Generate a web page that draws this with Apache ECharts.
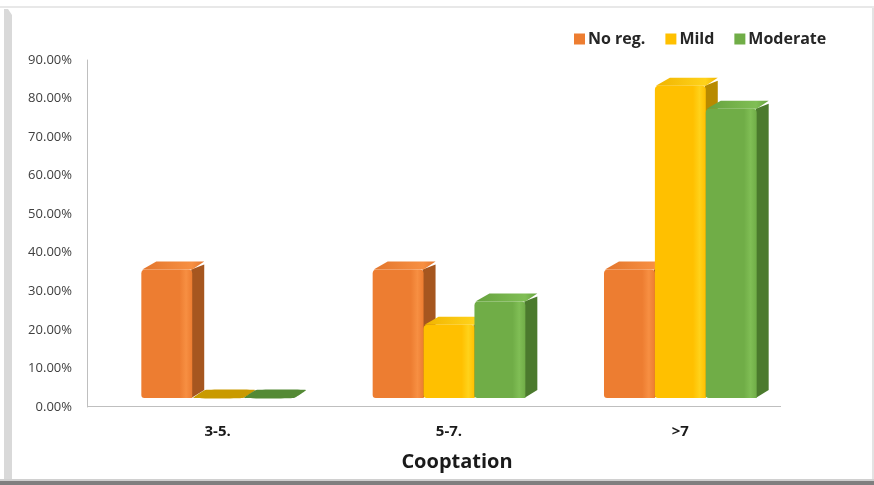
<!DOCTYPE html>
<html>
<head>
<meta charset="utf-8">
<script src="https://cdn.jsdelivr.net/npm/echarts@6/dist/echarts.min.js"></script>
<style>
  html, body { margin: 0; padding: 0; background: #ffffff; }
  #chart { width: 874px; height: 485px; }
</style>
</head>
<body>
<div id="chart"></div>
<script>
// Cooptation groups and share of each regulation level (percent)
const categories = ['3-5.', '5-7.', '>7'];
const noReg = [33.33, 33.33, 33.33];
const mild = [0, 19, 81];
const moderate = [0, 25, 75];
const seriesNames = ['No reg.', 'Mild', 'Moderate'];

// face colours per series: front, side, top, flat (zero-height) slab
const palette = [
  { front: '#ED7D31', light: '#F78F42', side: '#A6561F', top: '#E3762D', flat: '#B8601F' },
  { front: '#FFC000', light: '#FFD21A', side: '#B88A00', top: '#F0B400', flat: '#C99A00' },
  { front: '#70AD47', light: '#80BE55', side: '#4B7A2D', top: '#66A23E', flat: '#548A35' }
];

const DX = 12;   // depth offset to the right
const DY = -8;   // depth offset upwards
const LIFT = 9;  // floor of the 3D bars sits just above the axis line

function makeRender(si) {
  return function (params, api) {
    const idx = api.value(0);
    const v = api.value(1);
    const base = api.coord([idx, 0]);
    const top = api.coord([idx, v]);
    const band = api.size([1, 0])[0];
    const w = band * 0.22;
    const x0 = base[0] + (si - 1) * w - w / 2;
    const x1 = x0 + w;
    const yb = base[1] - LIFT;
    const yt = top[1] - LIFT;
    const c = palette[si];
    if (v <= 0) {
      return {
        type: 'polygon',
        shape: { points: [[x0 + 1, yb], [x1, yb], [x1 + DX, yb + DY], [x0 + DX + 1, yb + DY]], smooth: 0.1 },
        style: { fill: c.flat }
      };
    }
    return {
      type: 'group',
      children: [
        {
          type: 'polygon',
          shape: { points: [[x1 - 1, yb], [x1 + DX, yb + DY], [x1 + DX, yt + DY + 3], [x1 - 1, yt]] },
          style: { fill: c.side }
        },
        {
          type: 'polygon',
          shape: { points: [[x0 + 1, yt], [x1, yt], [x1 + DX, yt + DY], [x0 + DX + 3, yt + DY]] },
          style: {
            fill: new echarts.graphic.LinearGradient(0, 0, 1, 0, [
              { offset: 0, color: c.top },
              { offset: 0.8, color: c.light },
              { offset: 1, color: c.top }
            ])
          }
        },
        {
          type: 'rect',
          shape: { x: x0, y: yt, width: w, height: yb - yt, r: [4, 4, 0, 3] },
          style: {
            fill: new echarts.graphic.LinearGradient(0, 0, 1, 0, [
              { offset: 0, color: c.front },
              { offset: 0.75, color: c.front },
              { offset: 0.88, color: c.light },
              { offset: 1, color: c.front }
            ])
          }
        }
      ]
    };
  };
}

const valueSets = [noReg, mild, moderate];
const series = valueSets.map(function (vals, si) {
  return {
    name: seriesNames[si],
    type: 'custom',
    renderItem: makeRender(si),
    itemStyle: { color: palette[si].front },
    encode: { x: 0, y: 1 },
    data: vals.map(function (v, i) { return [i, v]; })
  };
});

const FONT = 'Open Sans';

const chart = echarts.init(document.getElementById('chart'));
chart.setOption({
  animation: false,
  backgroundColor: '#ffffff',
  textStyle: { fontFamily: FONT },
  legend: {
    data: seriesNames,
    left: 569,
    top: 26,
    itemWidth: 11,
    itemHeight: 11,
    itemGap: 20,
    icon: 'rect',
    textStyle: { fontFamily: FONT, fontWeight: 'bold', fontSize: 16, color: '#262626', padding: [0, 0, 0, -2] }
  },
  grid: { left: 102, right: 78, top: 60, bottom: 78 },
  xAxis: {
    type: 'category',
    data: categories,
    axisLine: { show: false },
    axisTick: { show: false },
    axisLabel: { margin: 17, fontFamily: FONT, fontWeight: 'bold', fontSize: 15, color: '#1a1a1a' },
    name: 'Cooptation',
    nameLocation: 'middle',
    nameGap: 45,
    nameTextStyle: { fontFamily: FONT, fontWeight: 'bold', fontSize: 20, color: '#1a1a1a', padding: [0, 0, 0, 16] }
  },
  yAxis: {
    type: 'value',
    min: 0,
    max: 90,
    interval: 10,
    offset: 15,
    splitLine: { show: false },
    axisLine: { show: true, lineStyle: { color: '#BFBFBF', width: 1 } },
    axisTick: { show: false },
    axisLabel: {
      margin: 15,
      fontFamily: FONT,
      fontSize: 13,
      color: '#404040',
      formatter: function (v) { return v.toFixed(2) + '%'; }
    }
  },
  graphic: [
    // horizontal floor line
    { type: 'line', shape: { x1: 87, y1: 406.5, x2: 781, y2: 406.5 }, style: { stroke: '#BFBFBF', lineWidth: 1 } },
    // frame edges
    { type: 'rect', shape: { x: 0, y: 6, width: 874, height: 2 }, style: { fill: '#E8E8E8' } },
    { type: 'polygon', shape: { points: [[4, 9], [8, 9], [12, 15], [12, 480], [4, 480]] }, style: { fill: '#D9D9D9' } },
    { type: 'rect', shape: { x: 872, y: 8, width: 2, height: 473 }, style: { fill: '#E3E3E3' } },
    { type: 'rect', shape: { x: 0, y: 479, width: 874, height: 2 }, style: { fill: '#D0D0D0' } },
    { type: 'rect', shape: { x: 0, y: 481, width: 874, height: 4 }, style: { fill: '#7F7F7F' } }
  ],
  series: series
});
</script>
</body>
</html>
